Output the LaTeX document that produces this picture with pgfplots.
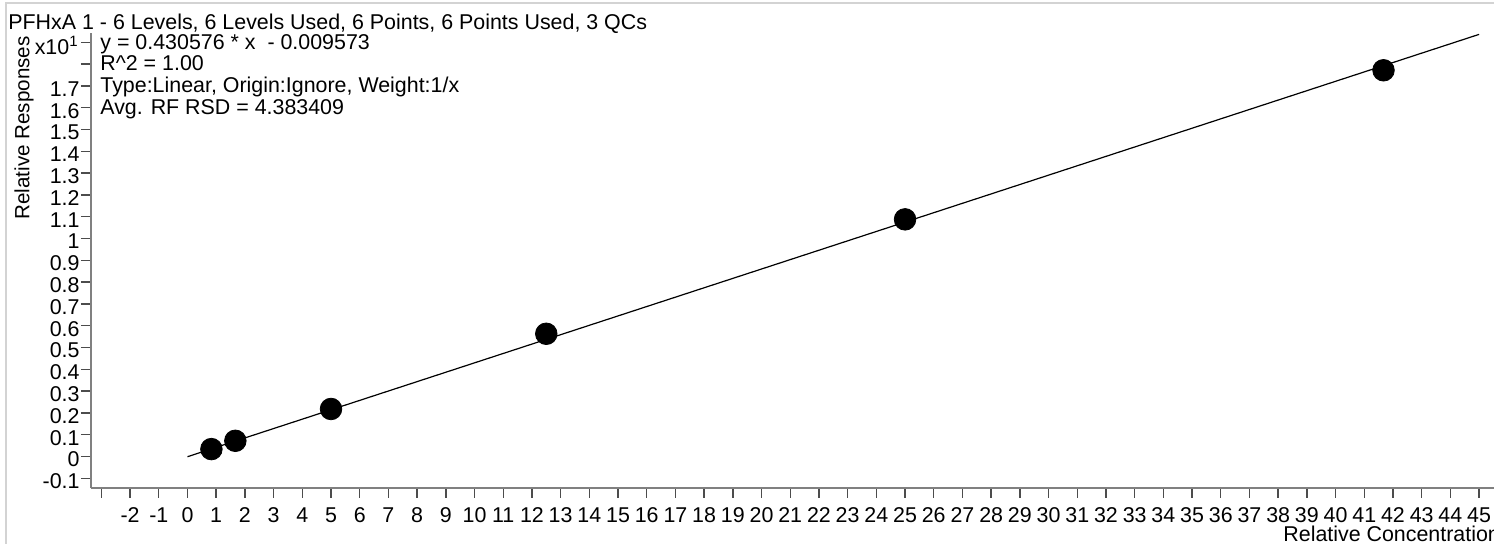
\documentclass[border=0pt]{standalone}
\usepackage{pgfplots}
\pgfplotsset{compat=1.18}
\usepackage{fontspec}
\setmainfont{Liberation Sans}
\definecolor{axisgray}{RGB}{128,128,128}
\definecolor{framegray}{RGB}{211,211,211}
\begin{document}
\begin{tikzpicture}[font=\fontsize{10.7}{12}\selectfont]
\begin{axis}[
  at={(0pt,0pt)}, anchor=south west,
  scale only axis, width=701.5pt, height=227.5pt,
  xmin=-3.362, xmax=45.52, ymin=-1.445, ymax=19.43,
  axis lines=left, axis line style={-, axisgray, line width=1.1pt},
  tick align=outside, major tick length=5pt,
  tick style={black!70, line width=0.7pt},
  xtick={-3,-2,...,45},
  xticklabels={{},-2,-1,0,1,2,3,4,5,6,7,8,9,10,11,12,13,14,15,16,17,18,19,20,21,22,23,24,25,26,27,28,29,30,31,32,33,34,35,36,37,38,39,40,41,42,43,44,45},
  ytick={-1,0,...,19},
  yticklabels={-0.1,0,0.1,0.2,0.3,0.4,0.5,0.6,0.7,0.8,0.9,1,1.1,1.2,1.3,1.4,1.5,1.6,1.7,{},{}},
  xticklabel style={anchor=north, inner sep=0pt, yshift=-4.5pt},
  yticklabel style={anchor=east, inner xsep=0.5pt, yshift=-1.5pt},
]
\addplot[black, line width=0.6pt] coordinates {(0,-0.009573) (45,19.366347)};
\addplot[only marks, mark=*, mark size=5.4pt, black] coordinates {
  (0.833,0.34) (1.667,0.72) (5,2.18) (12.5,5.63) (25,10.88) (41.67,17.72)};
\end{axis}
\draw[framegray, line width=1pt] (-42.5pt,-28pt) -- (-42.5pt,242.5pt) -- (701.5pt,242.5pt);
\node[anchor=base west, inner sep=0pt] at (-41.5pt,229pt) {PFHxA 1 - 6 Levels, 6 Levels Used, 6 Points, 6 Points Used, 3 QCs};
\node[anchor=base west, inner sep=0pt] at (4.5pt,219pt) {y = 0.430576 * x\ \ - 0.009573};
\node[anchor=base west, inner sep=0pt] at (4.5pt,208.8pt) {R\textasciicircum 2 = 1.00};
\node[anchor=base west, inner sep=0pt] at (4.5pt,197.7pt) {Type:Linear, Origin:Ignore, Weight:1/x};
\node[anchor=base west, inner sep=0pt] at (4.5pt,186.7pt) {Avg. RF RSD = 4.383409};
\node[anchor=base east, inner sep=0pt] at (-6pt,216.8pt) {x10\textsuperscript{1}};
\node[anchor=base west, inner sep=0pt, rotate=90, font=\fontsize{10.3}{12}\selectfont] at (-30.8pt,134pt) {Relative Responses};
\node[anchor=base west, inner sep=0pt] at (596pt,-26.85pt) {Relative Concentration};
\pgfresetboundingbox
\path[use as bounding box] (-45.5pt,-28pt) rectangle (701.5pt,244pt);
\end{tikzpicture}
\end{document}
